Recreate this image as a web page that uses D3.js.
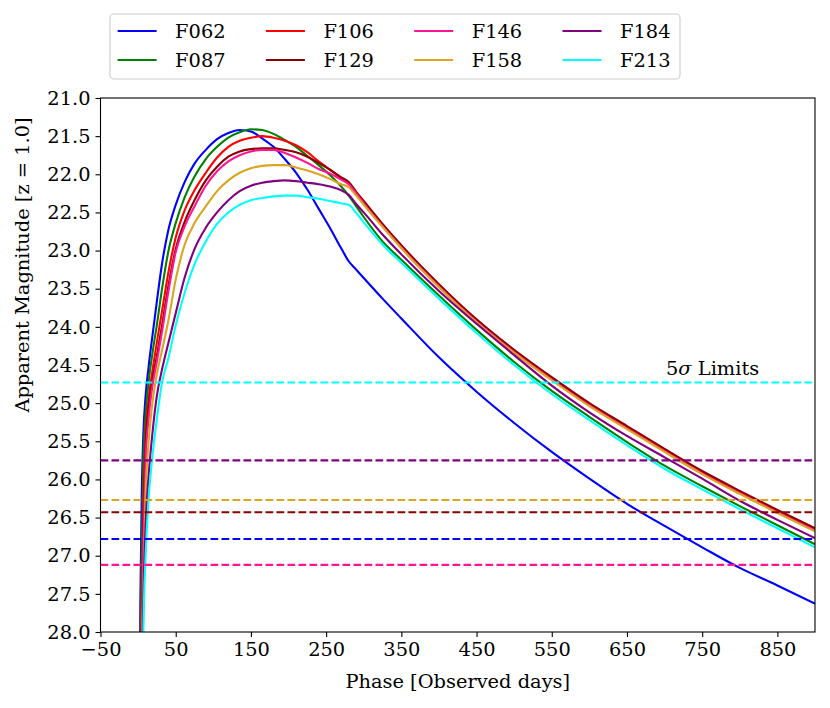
<!DOCTYPE html>
<html><head><meta charset="utf-8">
<script src="https://cdn.jsdelivr.net/npm/d3@7"></script>
<style>body{margin:0;background:#fff}svg{display:block}text{font-family:"DejaVu Serif",serif;fill:#000}</style>
</head><body><svg id="c" width="830" height="708"></svg>
<script>
const filters = ["F062","F087","F106","F129","F146","F158","F184","F213"];
const colors = ["#0000ff","#008000","#ff0000","#8b0000","#ff1493","#daa520","#800080","#00ffff"];
const phase = [1,3,5,7,10,14,19,25,32,40,50,62,75,90,105,120,135,150,165,180,195,210,225,240,255,270,280,290,300,325,350,400,450,500,550,600,650,700,750,800,850,900];
const magF062 = [31.0,27.6,26.1,25.4,24.9,24.52,24.12,23.66,23.16,22.74,22.40,22.10,21.86,21.68,21.54,21.46,21.42,21.44,21.53,21.64,21.80,21.98,22.20,22.45,22.70,22.97,23.14,23.25,23.36,23.63,23.89,24.40,24.85,25.26,25.64,25.99,26.32,26.61,26.89,27.16,27.39,27.63];
const magF087 = [31.5,28.3,26.9,25.75,25.15,24.72,24.35,23.97,23.49,23.02,22.64,22.30,22.03,21.80,21.64,21.52,21.45,21.41,21.42,21.47,21.55,21.64,21.76,21.88,22.01,22.16,22.28,22.42,22.56,22.88,23.12,23.59,24.04,24.46,24.84,25.18,25.51,25.82,26.09,26.35,26.60,26.85];
const magF106 = [32.0,29.2,27.6,26.35,25.45,24.95,24.58,24.20,23.78,23.30,22.83,22.47,22.21,21.98,21.78,21.64,21.56,21.52,21.50,21.52,21.56,21.62,21.71,21.83,21.94,22.05,22.12,22.25,22.37,22.67,22.95,23.46,23.92,24.32,24.68,25.02,25.32,25.62,25.91,26.17,26.42,26.66];
const magF129 = [32.5,29.5,28.0,26.7,25.6,25.05,24.70,24.38,23.97,23.48,22.98,22.62,22.34,22.08,21.90,21.77,21.70,21.67,21.66,21.66,21.68,21.71,21.77,21.85,21.94,22.04,22.10,22.23,22.35,22.65,22.93,23.44,23.90,24.30,24.66,25.00,25.30,25.60,25.89,26.15,26.40,26.64];
const magF146 = [33.0,29.8,28.0,26.9,25.75,25.2,24.78,24.45,24.05,23.55,23.02,22.68,22.42,22.15,21.96,21.83,21.75,21.70,21.68,21.68,21.72,21.78,21.85,21.93,21.99,22.07,22.13,22.25,22.38,22.68,22.96,23.47,23.93,24.33,24.69,25.03,25.33,25.63,25.92,26.18,26.43,26.67];
const magF158 = [34.0,31.0,28.6,27.4,26.2,25.5,25.0,24.62,24.30,23.93,23.38,22.92,22.64,22.42,22.22,22.08,21.98,21.92,21.89,21.88,21.88,21.91,21.95,22.00,22.06,22.13,22.17,22.28,22.40,22.69,22.97,23.48,23.94,24.34,24.70,25.04,25.34,25.64,25.93,26.19,26.44,26.68];
const magF184 = [35.0,32.0,29.0,27.6,26.6,25.95,25.4,24.9,24.55,24.22,23.82,23.35,22.98,22.70,22.50,22.34,22.22,22.15,22.11,22.09,22.08,22.09,22.11,22.13,22.16,22.21,22.27,22.39,22.50,22.79,23.05,23.53,23.96,24.37,24.77,25.12,25.43,25.71,25.99,26.28,26.53,26.77];
const magF213 = [36.0,33.0,30.0,28.0,27.0,26.25,25.7,25.2,24.72,24.42,23.98,23.55,23.18,22.88,22.65,22.50,22.40,22.34,22.31,22.29,22.28,22.28,22.30,22.32,22.35,22.38,22.40,22.51,22.63,22.92,23.16,23.63,24.08,24.50,24.88,25.22,25.55,25.86,26.13,26.39,26.64,26.89];
const limitFilters = ["F062","F129","F146","F158","F184","F213"];
const limitMags = [26.78,26.43,27.12,26.27,25.75,24.73];
const xTicks = [-50,50,150,250,350,450,550,650,750,850];
const yTicks = [21.0,21.5,22.0,22.5,23.0,23.5,24.0,24.5,25.0,25.5,26.0,26.5,27.0,27.5,28.0];

const mags = [magF062,magF087,magF106,magF129,magF146,magF158,magF184,magF213];
const svg = d3.select("#c");
const L=100.5, R=815, T=98, B=632;
const x = d3.scaleLinear().domain([-50,900]).range([L,R]);
const y = d3.scaleLinear().domain([21,28]).range([T,B]);
const col = f => colors[filters.indexOf(f)];
const FS = 19.4;

svg.append("clipPath").attr("id","clip").append("rect").attr("x",L).attr("y",T).attr("width",R-L).attr("height",B-T);
const plot = svg.append("g").attr("clip-path","url(#clip)");
const line = d3.line().x(d=>x(d[0])).y(d=>y(d[1])).curve(d3.curveMonotoneX);
filters.forEach((f,i)=>{
  plot.append("path").datum(phase.map((p,j)=>[p,mags[i][j]]))
    .attr("d",line).attr("fill","none").attr("stroke",colors[i]).attr("stroke-width",2.1);
});
limitFilters.forEach((f,i)=>{
  plot.append("line").attr("x1",x(-50)).attr("x2",x(900)).attr("y1",y(limitMags[i])).attr("y2",y(limitMags[i]))
    .attr("stroke",col(f)).attr("stroke-width",2.1).attr("stroke-dasharray","7.7,3.3");
});

// axes
const xa = svg.append("g").attr("transform",`translate(0,${B})`)
  .call(d3.axisBottom(x).tickValues(xTicks).tickSize(5).tickPadding(5).tickFormat(d=>d<0?"\u2212"+Math.abs(d):d));
const ya = svg.append("g").attr("transform",`translate(${L},0)`)
  .call(d3.axisLeft(y).tickValues(yTicks).tickSize(5).tickPadding(5).tickFormat(d3.format(".1f")));
[xa,ya].forEach(a=>{a.select(".domain").remove();a.selectAll("line").attr("stroke","#000").attr("stroke-width",1.1);
  a.selectAll("text").attr("font-size",FS).attr("font-family","DejaVu Serif").attr("fill","#000");});
svg.append("rect").attr("x",L).attr("y",T).attr("width",R-L).attr("height",B-T).attr("fill","none").attr("stroke","#000").attr("stroke-width",1.1);

svg.append("text").attr("x",(L+R)/2).attr("y",688).attr("text-anchor","middle").attr("font-size",FS).text("Phase [Observed days]");
svg.append("text").attr("transform","translate(29,265) rotate(-90)").attr("text-anchor","middle").attr("font-size",FS).text("Apparent Magnitude [z = 1.0]");

const lim = svg.append("text").attr("x",666).attr("y",375).attr("font-size",FS);
lim.append("tspan").text("5");
lim.append("tspan").attr("font-style","italic").text("\u03c3");
lim.append("tspan").text(" Limits");

// legend
const lg = svg.append("g");
lg.append("rect").attr("x",110).attr("y",14).attr("width",570).attr("height",65).attr("rx",4)
  .attr("fill","#fff").attr("fill-opacity",0.8).attr("stroke","#cccccc").attr("stroke-width",1.1);
filters.forEach((f,i)=>{
  const c = Math.floor(i/2), r = i%2;
  const lx = 117.6 + c*148.3, ly = 31 + r*29;
  lg.append("line").attr("x1",lx).attr("x2",lx+39).attr("y1",ly).attr("y2",ly).attr("stroke",colors[i]).attr("stroke-width",2.1);
  lg.append("text").attr("x",lx+57.5).attr("y",ly).attr("dy","0.35em").attr("font-size",FS).text(f);
});
</script></body></html>
